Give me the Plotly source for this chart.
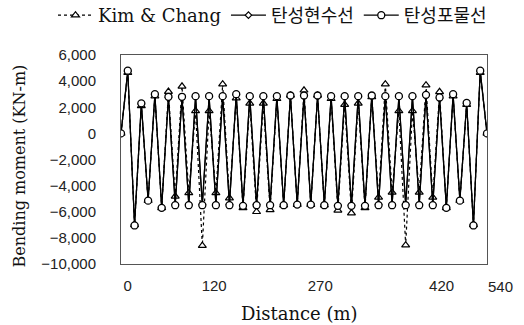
import plotly.graph_objects as go

# Distance along the bridge (m)
distance = [0, 10, 20, 30, 40, 50, 60, 70, 80, 90, 100, 110, 120, 130, 140, 150, 160, 170, 180, 190,
            200, 210, 220, 230, 240, 250, 260, 270, 280, 290, 300, 310, 320, 330, 340, 350, 360, 370,
            380, 390, 400, 410, 420, 430, 440, 450, 460, 470, 480, 490, 500, 510, 520, 530, 540]

# Bending moment (KN-m)
kim_chang = [0, 4650, -7000, 2100, -5150, 2850, -5700, 3200, -4820, 3600, -4560, 1720, -8600, 1720,
             -4560, 3770, -4950, 2700, -5700, 2300, -6000, 2300, -5850, 2650, -5500, 2900, -5450, 3300,
             -5450, 2900, -5500, 2650, -5900, 2200, -6100, 2300, -5700, 2800, -4900, 3770, -4520, 1720,
             -8560, 1720, -4520, 3690, -4900, 3180, -5700, 2850, -5150, 2200, -7000, 4650, 0]

catenary = [0, 4750, -7000, 2250, -5100, 2950, -5650, 2750, -5450, 2750, -5450, 2800, -5450, 2800,
            -5450, 2800, -5450, 2950, -5500, 2800, -5450, 2800, -5450, 2800, -5450, 2850, -5400, 2850,
            -5400, 2850, -5450, 2800, -5500, 2800, -5500, 2800, -5500, 2850, -5450, 2800, -5450, 2800,
            -5450, 2800, -5450, 2900, -5450, 2700, -5650, 2950, -5100, 2280, -7000, 4750, 0]

parabolic = [0, 4800, -7050, 2300, -5150, 3000, -5700, 2800, -5500, 2800, -5500, 2850, -5500, 2850,
             -5500, 2850, -5500, 3000, -5550, 2850, -5500, 2850, -5500, 2850, -5500, 2900, -5450, 2900,
             -5450, 2900, -5500, 2850, -5550, 2850, -5550, 2850, -5550, 2900, -5500, 2850, -5500, 2850,
             -5500, 2850, -5500, 2950, -5500, 2750, -5700, 3000, -5150, 2330, -7050, 4800, 0]

series_names = ["Kim & Chang", "탄성현수선", "탄성포물선"]

# x tick labels as placed in the original figure
xtick_pos = [10, 137.5, 294, 473]
xtick_text = ["0", "120", "270", "420"]
last_tick_text = "540"

ytick_vals = [6000, 4000, 2000, 0, -2000, -4000, -6000, -8000, -10000]
ytick_text = ["6,000", "4,000", "2,000", "0", "\u22122,000", "\u22124,000", "\u22126,000", "\u22128,000", "\u221210,000"]

SERIF = "DejaVu Serif, Noto Sans CJK KR, serif"
SANS = "Liberation Sans, Arial, sans-serif"

L, R, T, B = 121, 37, 55, 61
PW = 524 - L - R
PH = 325 - T - B

fig = go.Figure()
fig.add_trace(go.Scatter(
    x=distance, y=kim_chang, name=series_names[0], mode="lines+markers",
    line=dict(color="black", width=1.2, dash="dot"),
    marker=dict(symbol="triangle-up", size=7, color="white", line=dict(color="black", width=1.2)),
))
fig.add_trace(go.Scatter(
    x=distance, y=catenary, name=series_names[1], mode="lines+markers",
    line=dict(color="black", width=1.2),
    marker=dict(symbol="diamond", size=5, color="white", line=dict(color="black", width=1.2)),
))
fig.add_trace(go.Scatter(
    x=distance, y=parabolic, name=series_names[2], mode="lines+markers",
    line=dict(color="black", width=1.2),
    marker=dict(symbol="circle", size=7, color="white", line=dict(color="black", width=1.3)),
))

fig.update_layout(
    width=524, height=325,
    margin=dict(l=L, r=R, t=T, b=B, autoexpand=False),
    paper_bgcolor="white", plot_bgcolor="white",
    showlegend=True,
    legend=dict(
        orientation="h", xref="paper", yref="paper",
        x=(53 - L) / PW, xanchor="left", y=((325 - B) - 34) / PH, yanchor="bottom",
        font=dict(family=SERIF, size=18, color="#111"),
        itemwidth=35, tracegroupgap=0,
        bgcolor="rgba(0,0,0,0)",
    ),
    xaxis=dict(
        range=[0, 540], tickmode="array", tickvals=xtick_pos, ticktext=xtick_text,
        showgrid=False, zeroline=False, showline=True, mirror=True,
        linecolor="#555", linewidth=1, ticks="",
        tickfont=dict(family=SANS, size=15, color="#222"),
        ticklabelstandoff=8,
    ),
    yaxis=dict(
        range=[-10000, 6000], tickmode="array", tickvals=ytick_vals, ticktext=ytick_text,
        showgrid=False, zeroline=False, showline=True, mirror=True,
        linecolor="#555", linewidth=1, ticks="",
        tickfont=dict(family=SANS, size=15, color="#222"),
        ticklabelstandoff=21,
    ),
    annotations=[
        dict(text=last_tick_text, xref="paper", yref="paper", x=(500 - L) / PW,
             y=-(286 - (325 - B)) / PH, xanchor="center", yanchor="middle", showarrow=False,
             font=dict(family=SANS, size=15, color="#222")),
        dict(text="Distance (m)", xref="paper", yref="paper", x=(299 - L) / PW,
             y=-(313 - (325 - B)) / PH, xanchor="center", yanchor="middle", showarrow=False,
             font=dict(family=SERIF, size=18, color="#111")),
        dict(text="Bending moment (KN-m)", xref="paper", yref="paper", x=-(L - 19) / PW,
             y=((325 - B) - 166.5) / PH, xanchor="center", yanchor="middle", showarrow=False,
             textangle=-90, font=dict(family=SERIF, size=16, color="#111")),
    ],
)

fig.write_html("out.html", config={"displayModeBar": False},
               post_script="document.body.style.margin='0';document.body.style.overflow='hidden';")
